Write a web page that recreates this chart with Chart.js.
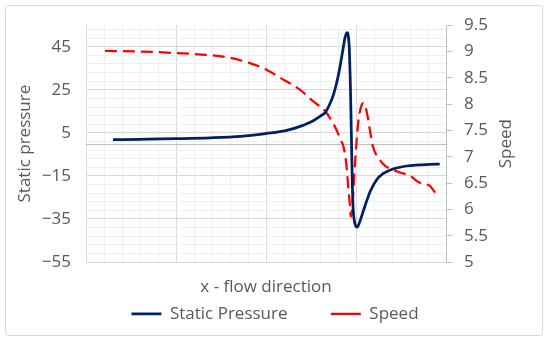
<!DOCTYPE html>
<html>
<head>
<meta charset="utf-8">
<script src="https://cdn.jsdelivr.net/npm/chart.js@4/dist/chart.umd.min.js"></script>
<style>
  body { margin: 0; background: #fff; }
</style>
</head>
<body>
<canvas id="flow" width="550" height="345"></canvas>
<script>
    // x positions are in arbitrary units along the flow (axis has no labels)
    var xPressure = [1.5, 3, 5, 6.9, 8.6, 10, 11.1, 11.9, 12.6, 13, 13.3, 13.55, 13.72, 13.89, 14, 14.11, 14.22, 14.31, 14.39, 14.46, 14.52, 14.57, 14.63, 14.68, 14.72, 14.76, 14.8, 14.84, 14.9, 14.97, 15.07, 15.2, 15.4, 15.6, 15.8, 16.15, 16.5, 17.05, 17.8, 18.55, 19.1, 19.65];
    var pressure = [1.8, 2.0, 2.3, 2.7, 3.4, 4.7, 6.0, 8.0, 10.5, 12.7, 14.5, 18.5, 22, 27, 31, 35.7, 41, 45.5, 49.2, 51, 51.5, 50.3, 44, 30, 14, -4, -20, -30, -35.5, -38, -38.8, -36.5, -31.5, -26.5, -22, -16.8, -14, -11.8, -10.4, -9.9, -9.6, -9.5];

    var xSpeed = [1.05, 3, 5, 6.9, 8, 9.1, 10, 10.8, 11.9, 12.6, 13.3, 13.55, 13.93, 14.17, 14.3, 14.48, 14.57, 14.67, 14.71, 14.82, 14.94, 15.13, 15.32, 15.41, 15.59, 15.78, 15.96, 16.24, 16.6, 17, 17.45, 18, 18.37, 18.75, 19.1, 19.3, 19.6];
    var speed = [9.01, 9.0, 8.97, 8.93, 8.88, 8.78, 8.66, 8.5, 8.27, 8.06, 7.86, 7.74, 7.5, 7.3, 7.2, 6.8, 6.42, 6.04, 5.86, 6.17, 6.86, 7.67, 7.99, 8.02, 7.86, 7.49, 7.17, 6.98, 6.83, 6.76, 6.7, 6.64, 6.54, 6.48, 6.45, 6.36, 6.23];

    // left axis: gridline every 4, label every 20 starting at -55
    var pressureMin = -55, pressureMax = 55, pressureMinor = 4, pressureMajor = 20;
    var speedMin = 5, speedMax = 9.5, speedStep = 0.5;

    var grey = '#595959';
    Chart.defaults.font.family = "'Open Sans', sans-serif";
    Chart.defaults.font.size = 17;
    Chart.defaults.color = grey;

    function pairs(xs, ys) {
      return xs.map(function (x, i) { return { x: x, y: ys[i] }; });
    }

    // frame round the chart, the axis line at 0 and the right axis title
    // (Chart.js turns a right-hand title the other way round)
    var extras = {
      id: 'extras',
      beforeDraw: function (chart) {
        var c = chart.ctx;
        c.save();
        c.strokeStyle = '#d9d9d9';
        c.lineWidth = 1;
        c.beginPath();
        c.roundRect(5.5, 5.5, 537, 330, 3);
        c.stroke();
        c.restore();
      },
      beforeDatasetsDraw: function (chart) {
        var c = chart.ctx, a = chart.chartArea;
        var y0 = Math.round(chart.scales.y.getPixelForValue(0)) + 0.5;
        c.save();
        c.strokeStyle = '#bfbfbf';
        c.lineWidth = 1;
        c.beginPath();
        c.moveTo(a.left, y0);
        c.lineTo(a.right, y0);
        c.stroke();
        c.restore();
      },
      afterDraw: function (chart) {
        var c = chart.ctx, s = chart.scales.y1;
        c.save();
        c.translate(s.right - 44, (s.top + s.bottom) / 2);
        c.rotate(-Math.PI / 2);
        c.textAlign = 'center';
        c.textBaseline = 'middle';
        c.fillStyle = grey;
        c.font = "17px 'Open Sans', sans-serif";
        c.fillText('Speed', 0, 0);
        c.restore();
      }
    };

    var flow = document.getElementById('flow').getContext('2d');
    var flowChart = new Chart(flow, {
    type: 'line',
    data: {
    datasets: [{
      label: 'Static Pressure',
      data: pairs(xPressure, pressure),
      yAxisID: 'y',
      borderColor: '#002060',
      backgroundColor: '#002060',
      borderWidth: 2.75,
      pointRadius: 0,
      cubicInterpolationMode: 'monotone'
    }, {
      label: 'Speed',
      data: pairs(xSpeed, speed),
      yAxisID: 'y1',
      borderColor: '#ff0000',
      backgroundColor: '#ff0000',
      borderWidth: 2.25,
      borderDash: [12, 6],
      pointRadius: 0,
      cubicInterpolationMode: 'monotone'
    }]},
    plugins: [extras],
    options: {
      responsive: false,
      animation: false,
      devicePixelRatio: 1,
      layout: { padding: { top: 23, left: 0, right: 0, bottom: 12.6 } },
      scales: {
        x: {
          type: 'linear',
          min: 0,
          max: 20,
          ticks: { display: false, stepSize: 1 },
          grid: {
            drawTicks: false,
            color: function (c) { return c.tick && c.tick.value % 5 === 0 ? '#d9d9d9' : '#efefef'; }
          },
          border: { display: false },
          title: { display: true, text: 'x - flow direction', padding: { top: 15, bottom: 0 } }
        },
        y: {
          position: 'left',
          min: pressureMin,
          max: pressureMax,
          afterBuildTicks: function (scale) {
            var t = [];
            for (var v = pressureMin; v <= pressureMax; v += pressureMinor) t.push({ value: v });
            scale.ticks = t;
          },
          afterFit: function (scale) { scale.width = 86; },
          ticks: {
            autoSkip: false,
            padding: 15,
            callback: function (v) {
              if ((v - pressureMin) % pressureMajor !== 0) return '';
              return v < 0 ? '\u2212' + Math.abs(v) : String(v);
            }
          },
          grid: {
            drawTicks: false,
            color: function (c) {
              return c.tick && (c.tick.value - pressureMin) % pressureMajor === 0 ? '#d9d9d9' : '#efefef';
            }
          },
          border: { display: false },
          title: { display: true, text: 'Static pressure', padding: { top: 15, bottom: 0 } }
        },
        y1: {
          position: 'right',
          min: speedMin,
          max: speedMax,
          afterFit: function (scale) { scale.width = 104; },
          ticks: {
            stepSize: speedStep,
            padding: 12,
            callback: function (v) { return String(v); }
          },
          grid: { drawOnChartArea: false, tickLength: 6, color: '#bfbfbf' },
          border: { display: true, color: '#bfbfbf' },
          title: { display: false, text: 'Speed' }
        }
      },
      plugins: {
        tooltip: { enabled: false },
        legend: {
          display: true,
          position: 'bottom',
          maxHeight: 40,
          labels: {
            usePointStyle: true,
            pointStyle: 'line',
            pointStyleWidth: 30,
            padding: 8,
            color: grey,
            generateLabels: function (chart) {
              var items = Chart.defaults.plugins.legend.labels.generateLabels(chart);
              // wider gap between the two entries, as in the original
              items[0].text = items[0].text + '\u00a0\u00a0\u00a0\u00a0\u00a0\u00a0\u00a0\u00a0';
              return items;
            }
          }
        }
      }
  }
  });
</script>
</body>
</html>
